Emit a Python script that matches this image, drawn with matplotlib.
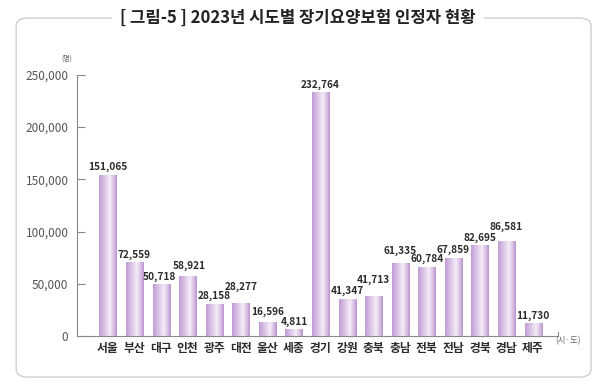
import numpy as np
import matplotlib.pyplot as plt
from matplotlib.patches import FancyBboxPatch
from matplotlib.colors import to_rgb

plt.rcParams['font.family'] = ['Noto Sans CJK KR', 'DejaVu Sans']

# data
regions = ['서울', '부산', '대구', '인천', '광주', '대전', '울산', '세종', '경기',
           '강원', '충북', '충남', '전북', '전남', '경북', '경남', '제주']
# printed values
value_labels = [151065, 72559, 50718, 58921, 28158, 28277, 16596, 4811, 232764,
                41347, 41713, 61335, 60784, 67859, 82695, 86581, 11730]
# bar heights as drawn (the drawn bars don't match the printed numbers exactly)
bar_heights = [154000, 70000, 49500, 56500, 30500, 31500, 12500, 6000, 232700,
               35300, 38200, 69000, 66000, 74500, 86500, 90200, 11500]
# extra lift (points) on some labels so they don't collide
label_lift = [0, 0, 0, 2, 0, 6, 2, 0, 0, 0, 6, 4, 0, 0, 0, 5, 0]
label_shift = [0, 0, -1, 1, 0, 0, 0, 0, 0, 0, 0, 0, 0, 0, 0, 0, 0]
yticks = [0, 50000, 100000, 150000, 200000, 250000]


def gradient_bar(ax, x, h, w):
    """Fake the shaded purple column with a horizontal gradient image."""
    stops = [(0.0, '#c19bd3'), (0.25, '#d6bde3'), (0.62, '#f4ecf7'),
             (0.85, '#d5bbe2'), (1.0, '#bb93cf')]
    xs = np.linspace(0, 1, 60)
    pos = [s[0] for s in stops]
    cols = np.array([to_rgb(s[1]) for s in stops])
    img = np.stack([np.interp(xs, pos, cols[:, k]) for k in range(3)], axis=-1)
    ax.imshow(img[np.newaxis, :, :], extent=[x - w / 2, x + w / 2, 0, h],
              aspect='auto', interpolation='bilinear', zorder=2)


def make_chart():
    fig = plt.figure(figsize=(6, 3.84), dpi=100)
    ax = fig.add_axes([0.128, 0.125, 0.802, 0.68])

    x = np.arange(len(regions))
    w = 0.64
    for xi, h in zip(x, bar_heights):
        gradient_bar(ax, xi, h, w)

    for xi, h, v, lift, sh in zip(x, bar_heights, value_labels, label_lift, label_shift):
        ax.annotate(f'{v:,}', (xi, h), xytext=(sh, 2 + lift), textcoords='offset points',
                    ha='center', va='bottom', fontsize=7.3, fontweight='bold',
                    color='#2b2b2b')

    ax.set_xlim(-1.17, 16.94)
    ax.set_ylim(0, 250000)
    ax.set_yticks(yticks)
    ax.set_yticklabels([f'{t:,}' for t in yticks], fontsize=8.5, color='#555555')
    ax.set_xticks(x)
    ax.set_xticklabels(regions, fontsize=8.5, color='#2b2b2b', fontweight='bold')
    ax.tick_params(axis='y', direction='in', length=6, width=0.8, color='#888888', pad=6)
    ax.tick_params(axis='x', length=0, pad=4)
    for side in ['top', 'right']:
        ax.spines[side].set_visible(False)
    for side in ['left', 'bottom']:
        ax.spines[side].set_color('#888888')
        ax.spines[side].set_linewidth(0.8)
    # little end tick on the baseline
    ax.plot([16.94, 16.94], [0, 3500], color='#888888', lw=0.8, clip_on=False)

    ax.text(-1.55, 262000, '(명)', fontsize=5, color='#555555', ha='center', va='bottom')
    fig.text(0.947, 0.113, '(시·도)', fontsize=6, color='#666666', ha='center', va='center')

    # rounded frame + title
    frame = FancyBboxPatch((0.027, 0.018), 0.958, 0.935, transform=fig.transFigure,
                           boxstyle='round,pad=0,rounding_size=0.02', fill=False,
                           edgecolor='#cfcfcf', lw=1.0, zorder=0)
    fig.patches.append(frame)
    fig.text(0.497, 0.953, '[ 그림-5 ] 2023년 시도별 장기요양보험 인정자 현황',
             fontsize=12, fontweight='bold', color='#222222', ha='center', va='center',
             bbox=dict(facecolor='white', edgecolor='none', pad=6))

    fig.savefig('out.png', dpi=100)


if __name__ == '__main__':
    make_chart()
